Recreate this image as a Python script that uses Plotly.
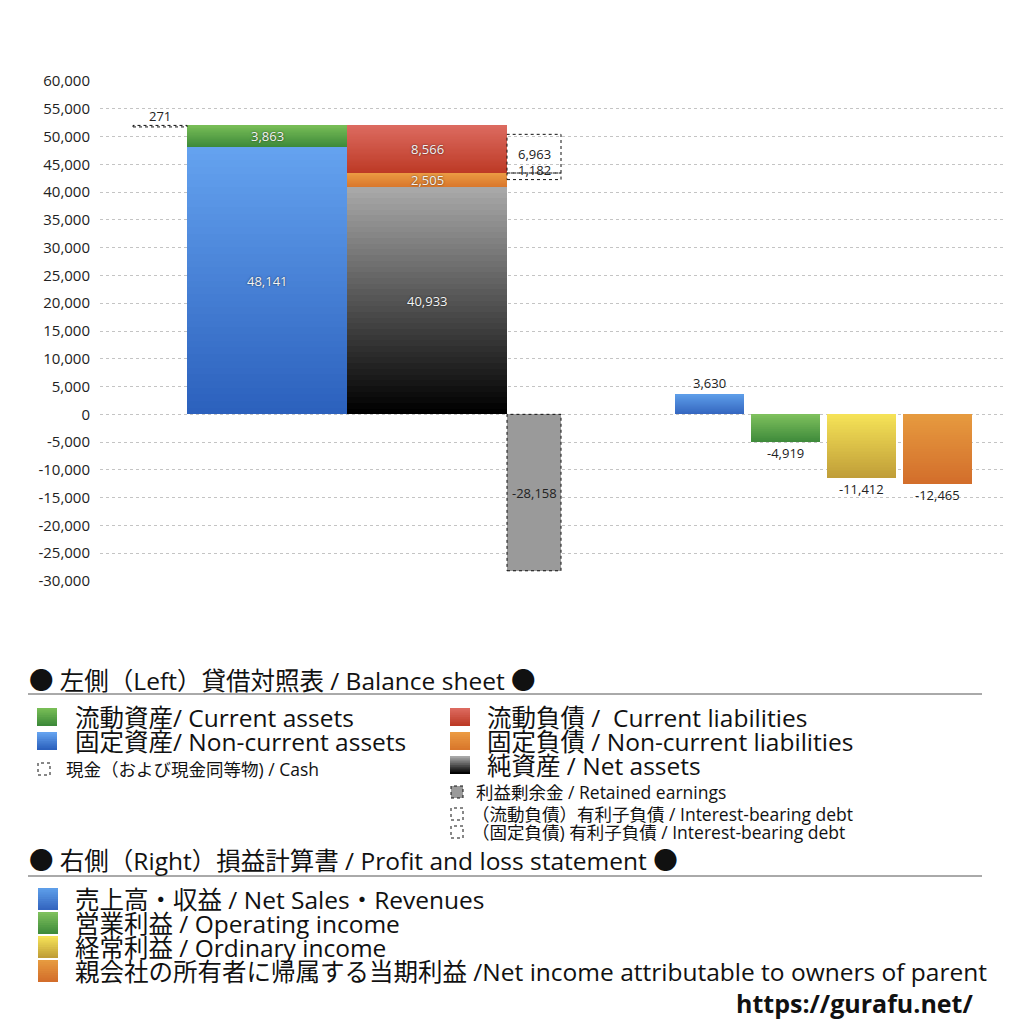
import plotly.graph_objects as go

# ---------------- data ----------------
asset_names = ["固定資産", "流動資産"]            # bottom -> top
asset_values = [48141, 3863]
liab_names = ["純資産", "固定負債", "流動負債"]      # bottom -> top
liab_values = [40933, 2505, 8566]
cash_values = [271]
debt_names = ["（流動負債）有利子負債", "（固定負債) 有利子負債"]
debt_values = [6963, 1182]
retained_values = [-28158]
pl_names = ["売上高・収益", "営業利益", "経常利益", "親会社の所有者に帰属する当期利益"]
pl_values = [3630, -4919, -11412, -12465]
y_ticks = [-30000, -25000, -20000, -15000, -10000, -5000, 0, 5000, 10000,
           15000, 20000, 25000, 30000, 35000, 40000, 45000, 50000, 55000, 60000]
y_tick_labels = [f"{v:,}" for v in y_ticks]

# ---------------- layout constants ----------------
OFF = 8                      # page body margin
FW = FH = 1024 - OFF
FONT = "Open Sans, Noto Sans CJK JP"
X0_PX, X1_PX, Y0_PX, Y1_PX = 100, 1005, 81, 581
CASH_X, ASSET_X, LIAB_X, DEBT_X = 60, 167, 327, 434
PL_X = [609.5, 685.5, 761.5, 837.5]
BIG_W, SMALL_W, PL_W = 160, 54, 69

asset_grad = [("#2c61bd", "#64a2ef"), ("#3d8a3a", "#78bd56")]
liab_grad = [("#000000", "#a8a8a8"), ("#d9772c", "#eb9a42"), ("#bd3a26", "#dc6a5f")]
pl_grad = [("#3466c0", "#5d9de8"), ("#3f8b3b", "#7ec05d"),
           ("#c09e38", "#f5e257"), ("#d36e2b", "#e69a3f")]


def hx(c):
    c = c.lstrip("#")
    return [int(c[i:i + 2], 16) for i in (0, 2, 4)]


def mix(c0, c1, t):
    a, b = hx(c0), hx(c1)
    return "rgb(%d,%d,%d)" % tuple(round(a[i] + (b[i] - a[i]) * t) for i in range(3))


fig = go.Figure()


def grad_bar(x, width, lo, hi, bottom, top, n=40):
    step = (hi - lo) / n
    bases = [lo + i * step for i in range(n)]
    fig.add_trace(go.Bar(
        x=[x] * n, base=bases, y=[hi - b for b in bases], width=[width] * n,
        marker=dict(color=[mix(bottom, top, i / (n - 1)) for i in range(n)],
                    line=dict(width=0)),
        hoverinfo="skip", showlegend=False))


annotations = []
shapes = []


def label(x, y, text, inside=True, yshift=0, yanchor="middle"):
    annotations.append(dict(
        x=x, y=y, xref="x", yref="y", text=text, showarrow=False, yshift=yshift,
        yanchor=yanchor,
        font=dict(family=FONT, size=13,
                  color="#f4f4f4" if inside else "#222222",
                  shadow="0px 0px 2px rgba(0,0,0,0.7)" if inside else "none")))


def dotted_box(x, width, lo, hi, fill="rgba(0,0,0,0)"):
    shapes.append(dict(type="rect", xref="x", yref="y",
                       x0=x - width / 2, x1=x + width / 2, y0=lo, y1=hi,
                       line=dict(color="#111", width=1, dash="dot"),
                       fillcolor=fill, layer="above"))


# assets column
acc = 0
for v, (b, t) in zip(asset_values, asset_grad):
    grad_bar(ASSET_X, BIG_W, acc, acc + v, b, t)
    label(ASSET_X, acc + v / 2, f"{v:,}")
    acc += v
total_assets = acc

# cash box (top of assets)
dotted_box(CASH_X, SMALL_W, total_assets - cash_values[0], total_assets)
label(CASH_X, total_assets, f"{cash_values[0]:,}", inside=False, yanchor="bottom", yshift=-2)

# liabilities / net assets column
acc = 0
tops = []
for v, (b, t) in zip(liab_values, liab_grad):
    grad_bar(LIAB_X, BIG_W, acc, acc + v, b, t)
    label(LIAB_X, acc + v / 2, f"{v:,}")
    acc += v
    tops.append(acc)

# interest bearing debt boxes
debt_base = tops[1]
dotted_box(DEBT_X, SMALL_W, debt_base, debt_base + debt_values[0])
label(DEBT_X, debt_base + debt_values[0] / 2, f"{debt_values[0]:,}", inside=False)
dotted_box(DEBT_X, SMALL_W, debt_base - debt_values[1], debt_base)
label(DEBT_X, debt_base - debt_values[1] / 2, f"{debt_values[1]:,}", inside=False, yshift=6)

# retained earnings
fig.add_trace(go.Bar(x=[DEBT_X], y=retained_values, width=[SMALL_W],
                     marker=dict(color="#9a9a9a", line=dict(width=0)),
                     hoverinfo="skip", showlegend=False))
dotted_box(DEBT_X, SMALL_W, retained_values[0], 0)
label(DEBT_X, retained_values[0] / 2, f"{retained_values[0]:,}", inside=False)

# P&L bars
for x, v, (b, t) in zip(PL_X, pl_values, pl_grad):
    grad_bar(x, PL_W, min(0, v), max(0, v), b, t)
    if v >= 0:
        label(x, v, f"{v:,}", inside=False, yanchor="bottom", yshift=0)
    else:
        label(x, v, f"{v:,}", inside=False, yanchor="top", yshift=0)

# ---------------- legend block (pixel helpers) ----------------


def px(x):
    return (x - OFF) / FW


def py(y):
    return 1 - (y - OFF) / FH


def text_px(x, y, text, size, color="#111", bold=False):
    annotations.append(dict(
        x=px(x), y=py(y), xref="paper", yref="paper", text=f"<b>{text}</b>" if bold else text,
        showarrow=False, xanchor="left", yanchor="middle",
        font=dict(family=FONT, size=size, color=color)))


def grad_square(x, y, w, h, bottom, top, n=10):
    for i in range(n):
        y_top = y - h / 2 + i * h / n
        shapes.append(dict(type="rect", xref="paper", yref="paper",
                           x0=px(x), x1=px(x + w), y0=py(y + h / 2), y1=py(y_top),
                           line=dict(width=0),
                           fillcolor=mix(top, bottom, i / (n - 1)), layer="above"))


def dotted_square(x, y, s, fill="rgba(0,0,0,0)"):
    shapes.append(dict(type="rect", xref="paper", yref="paper",
                       x0=px(x), x1=px(x + s), y0=py(y + s / 2), y1=py(y - s / 2),
                       line=dict(color="#111", width=1, dash="dot"), fillcolor=fill))


def hline(y):
    shapes.append(dict(type="line", xref="paper", yref="paper",
                       x0=px(28), x1=px(982), y0=py(y), y1=py(y),
                       line=dict(color="#555", width=1)))


BIG_F, SMALL_F = 24.5, 17.5

text_px(27, 680, "● 左側（Left）貸借対照表 / Balance sheet ●", BIG_F)
hline(694)
grad_square(37, 717, 20, 18, *asset_grad[1])
text_px(73, 717, "流動資産/ Current assets", BIG_F)
grad_square(37, 741, 20, 18, *asset_grad[0])
text_px(73, 741, "固定資産/ Non-current assets", BIG_F)
dotted_square(38, 769, 12)
text_px(64, 769, "現金（および現金同等物) / Cash", SMALL_F)

grad_square(450, 717, 20, 18, *liab_grad[2])
text_px(485, 717, "流動負債 /  Current liabilities", BIG_F)
grad_square(450, 741, 20, 18, *liab_grad[1])
text_px(485, 741, "固定負債 / Non-current liabilities", BIG_F)
grad_square(450, 765, 20, 18, *liab_grad[0])
text_px(485, 765, "純資産 / Net assets", BIG_F)
dotted_square(451, 792, 12, fill="#9a9a9a")
text_px(474, 792, "利益剰余金 / Retained earnings", SMALL_F)
dotted_square(451, 814, 12)
text_px(470, 814, "（流動負債）有利子負債 / Interest-bearing debt", SMALL_F)
dotted_square(451, 832, 12)
text_px(470, 832, "（固定負債) 有利子負債 / Interest-bearing debt", SMALL_F)

text_px(27, 860, "● 右側（Right）損益計算書 / Profit and loss statement ●", BIG_F)
hline(876)
pl_legend = ["売上高・収益 / Net Sales・Revenues", "営業利益 / Operating income",
             "経常利益 / Ordinary income",
             "親会社の所有者に帰属する当期利益 /Net income attributable to owners of parent"]
for i, (t, (b, tp)) in enumerate(zip(pl_legend, pl_grad)):
    yy = 899 + 24 * i
    grad_square(38, yy, 20, 22, b, tp)
    text_px(73, yy, t, BIG_F)

text_px(734, 1003, "https://gurafu.net/", 25, bold=True)

fig.update_layout(
    width=FW, height=FH, margin=dict(l=0, r=0, t=0, b=0, autoexpand=False),
    paper_bgcolor="white", plot_bgcolor="white",
    barmode="overlay", bargap=0, showlegend=False,
    font=dict(family=FONT, color="#222"),
    xaxis=dict(domain=[px(X0_PX), px(X1_PX)], range=[0, X1_PX - X0_PX],
               visible=False, fixedrange=True, automargin=False),
    yaxis=dict(domain=[py(Y1_PX), py(Y0_PX)], range=[-30000, 60000],
               tickvals=y_ticks, ticktext=y_tick_labels, automargin=False,
               tickfont=dict(family=FONT, size=15, color="#222"),
               showgrid=True, gridcolor="#c4c4c4", griddash="dot", gridwidth=1,
               zeroline=False, showline=False, ticks="", ticklabelstandoff=9),
    annotations=annotations, shapes=shapes,
)

fig.write_html("out.html")
